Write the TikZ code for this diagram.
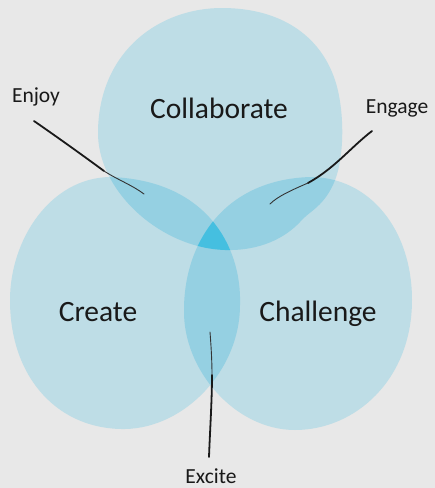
\documentclass[tikz,border=0pt]{standalone}
\usepackage{fontspec}
\setmainfont{Carlito}
\definecolor{bg}{HTML}{E8E8E8}
\definecolor{one}{HTML}{BEDDE6}
\definecolor{two}{HTML}{95D0E2}
\definecolor{three}{HTML}{45BFE0}
\tikzset{
  big/.style={font=\fontsize{29.5}{32}\selectfont, anchor=base, inner sep=0pt, text=black!90},
  small/.style={font=\fontsize{21.5}{24}\selectfont, anchor=base, inner sep=0pt, text=black!90},
  stroke/.style={line width=1.8pt, line cap=round, black!90},
  tail/.style={line width=0.9pt, line cap=round, black!80},
}
\newcommand{\topblob}{(222,8) .. controls (160,8) and (100,50) .. (98,130)
  .. controls (96,190) and (160,248) .. (225,250)
  .. controls (260,251) and (285,238) .. (300,222)
  .. controls (308,212) and (322,208) .. (333,185)
  .. controls (345,160) and (345,110) .. (335,80)
  .. controls (320,35) and (280,8) .. (222,8) -- cycle}
\newcommand{\leftblob}{(110,177) .. controls (50,178) and (10,240) .. (10,300)
  .. controls (10,380) and (60,430) .. (125,429)
  .. controls (185,428) and (240,370) .. (240,305)
  .. controls (242,245) and (205,180) .. (110,177) -- cycle}
\newcommand{\rightblob}{(310,177) .. controls (370,177) and (412,230) .. (412,300)
  .. controls (412,380) and (355,430) .. (295,430)
  .. controls (235,430) and (183,370) .. (184,310)
  .. controls (184,245) and (222,180) .. (310,177) -- cycle}
\begin{document}
\begin{tikzpicture}[x=1pt,y=-1pt]
\fill[bg] (0,0) rectangle (435,488);
\useasboundingbox (0,0) rectangle (435,488);
% blobs
\fill[one] \topblob;
\fill[one] \leftblob;
\fill[one] \rightblob;
% pairwise overlaps
\begin{scope}\clip \topblob; \fill[two] \leftblob; \fill[two] \rightblob; \end{scope}
\begin{scope}\clip \leftblob; \fill[two] \rightblob; \end{scope}
% triple overlap
\begin{scope}\clip \topblob; \clip \leftblob; \fill[three] \rightblob; \end{scope}
% labels
\node[big] (collab) at (219,118) {Collaborate};
\node[big] (create) at (98,321) {Create};
\node[big] (chall) at (318,321) {Challenge};
\node[small] (enjoy) at (36,102) {Enjoy};
\node[small] (engage) at (397,113) {Engage};
\node[small] (excite) at (211,483) {Excite};
% connector end points
\coordinate (enjoyA) at (34,121);
\coordinate (enjoyB) at (104,171);
\coordinate (enjoyC) at (144,194);
\coordinate (engA) at (372,131);
\coordinate (engB) at (308,183);
\coordinate (engC) at (270,204);
\coordinate (excA) at (209,457);
\coordinate (excB) at (212,375);
\coordinate (excC) at (210,332);
% connectors
\draw[stroke] (enjoyA) .. controls (60,139) and (85,157) .. (enjoyB);
\draw[tail] (enjoyB) .. controls (118,180) and (132,185) .. (enjoyC);
\draw[stroke] (engA) .. controls (350,148) and (335,168) .. (engB);
\draw[tail] (engB) .. controls (292,190) and (278,196) .. (engC);
\draw[stroke] (excA) .. controls (210,430) and (212,400) .. (excB);
\draw[tail] (excB) .. controls (212,360) and (211,345) .. (excC);
\end{tikzpicture}
\end{document}
